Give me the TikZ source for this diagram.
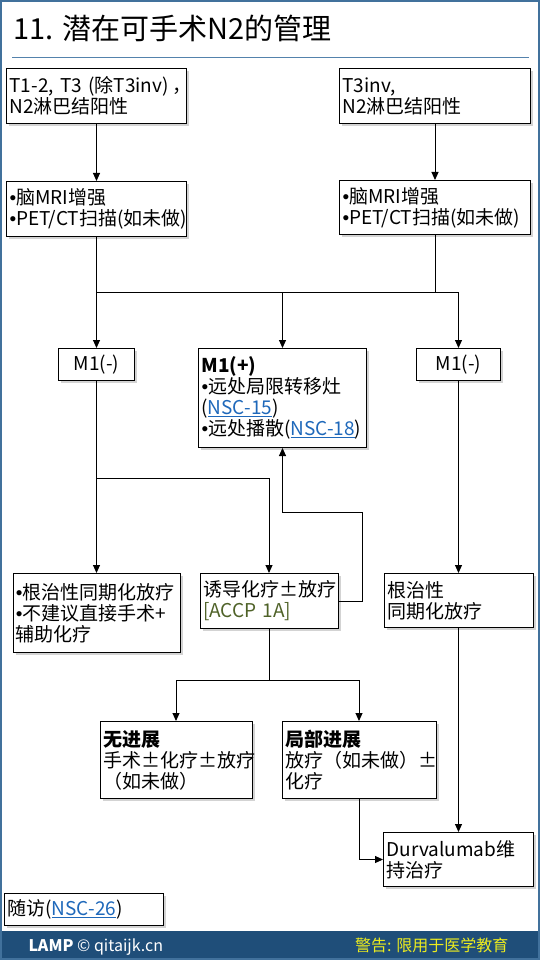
\documentclass[tikz,border=0pt]{standalone}
\usepackage{fontspec}
\setmainfont{Noto Sans CJK SC}
\newfontfamily\bulletfont{Liberation Sans}
\usepackage{tikz}
\usetikzlibrary{positioning,arrows.meta,shadows}

\definecolor{frameblue}{RGB}{65,113,156}
\definecolor{ruleblue}{RGB}{84,130,172}
\definecolor{footblue}{RGB}{31,78,121}
\definecolor{warnyellow}{RGB}{236,236,30}
\definecolor{linkblue}{RGB}{30,104,186}
\definecolor{gradegreen}{RGB}{79,98,40}
\newcommand{\nsc}[1]{\textcolor{linkblue}{\underline{#1}}}
\newcommand{\bul}{{\bulletfont •}}

\begin{document}
\begin{tikzpicture}[x=1pt,y=1pt,
  box/.style={draw,line width=1pt,fill=white,align=left,inner xsep=3pt,inner ysep=2pt,
              font=\fontsize{19pt}{21pt}\selectfont,
              drop shadow={shadow xshift=2.5pt,shadow yshift=-2.5pt,opacity=0.35}},
  arr/.style={-{Triangle[length=8pt,width=7pt]},line width=1pt}]
\useasboundingbox (0,0) rectangle (540,-960);
\fill[footblue] (0,-931) rectangle (540,-960);
\draw[frameblue,line width=2pt] (1,-1) rectangle (539,-959);
\node[anchor=base west,font=\fontsize{29pt}{32pt}\selectfont] (title) at (10,-40) {11. 潜在可手术N2的管理};
\draw[ruleblue,line width=1pt] (12,-58) -- (529,-58);
% top row
\node[box,text width=174pt,minimum height=55pt,anchor=north west] (ta) at (6,-68) {\mbox{T1-2, T3 (除T3inv)\,，}\\N2淋巴结阳性};
\node[box,text width=185pt,minimum height=55pt,right=152pt of ta.north east,anchor=north west] (tb) {T3inv,\\N2淋巴结阳性};
\node[box,text width=174pt,minimum height=55pt,below=57pt of ta] (mra) {\bul 脑MRI增强\\\bul PET/CT扫描(如未做)};
\node[box,text width=185pt,minimum height=54pt,below=56pt of tb] (mrb) {\bul 脑MRI增强\\\bul PET/CT扫描(如未做)};
% M1 row
\node[box,align=center,minimum width=76pt,minimum height=32pt,below=111pt of mra] (mna) {M1(-)};
\node[box,text width=162pt,minimum height=99pt,right=63pt of mna.north east,anchor=north west] (mp) {\textbf{M1(+)}\\\bul 远处局限转移灶\\(\nsc{NSC-15})\\\bul 远处播散(\nsc{NSC-18})};
\node[box,align=center,minimum width=84pt,minimum height=32pt,right=49pt of mp.north east,anchor=north west] (mnb) {M1(-)};
% treatment row
\node[box,text width=161pt,minimum height=79pt,below=192pt of mna] (cra) {\bul 根治性同期化放疗\\\bul 不建议直接手术+\\辅助化疗};
\node[box,text width=132pt,minimum height=55pt,right=19pt of cra.north east,anchor=north west] (ind) {诱导化疗±放疗\\\textcolor{gradegreen}{[ACCP 1A]}};
\node[box,text width=143pt,minimum height=54pt,right=45pt of ind.north east,anchor=north west] (crb) {根治性\\同期化放疗};
\node[box,text width=146pt,minimum height=77pt,below=92pt of ind,xshift=-93pt] (ne) {\textbf{无进展}\\手术±化疗±放疗\\（如未做）};
\node[box,text width=148pt,minimum height=77pt,right=29pt of ne.north east,anchor=north west] (lp) {\textbf{局部进展}\\放疗（如未做）±\\化疗};
\node[box,text width=144pt,minimum height=54pt,below=204pt of crb] (dv) {Durvalumab维\\持治疗};
\node[box,text width=153pt,minimum height=32pt,anchor=north west] (fu) at (4,-893) {随访(\nsc{NSC-26})};
% footer
\node[anchor=base west,text=white,font=\fontsize{16pt}{18pt}\selectfont] (lamp) at (25,-951) {\textbf{LAMP} © qitaijk.cn};
\node[anchor=base east,text=warnyellow,font=\fontsize{16pt}{18pt}\selectfont] (warn) at (512,-951) {警告: 限用于医学教育};
% connectors
\coordinate (jn) at (0,-292);
\draw[arr] (ta) -- (mra);
\draw[arr] (tb) -- (mrb);
\draw[arr] (mra) -- (mna);
\draw (mrb.south) -- (mrb.south |- jn);
\draw (mra.south |- jn) -- (mnb.north |- jn);
\draw[arr] (mp.north |- jn) -- (mp.north);
\draw[arr] (mnb.north |- jn) -- (mnb.north);
\draw[arr] (mna) -- (cra);
\draw[arr] ([yshift=-97pt]mna.south) -| (ind);
\draw[arr] (ind.east) -- ++(24,0) |- ([yshift=-64pt]mp.south) -- (mp.south);
\draw[arr] (mnb) -- (mnb.south |- crb.north);
\draw[arr] (mnb.south |- crb.south) -- (mnb.south |- dv.north);
\draw (ind.south) -- ++(0,-51) coordinate (sp);
\draw[arr] (sp) -| (ne);
\draw[arr] (sp) -| (lp);
\draw[arr] (lp.south) |- (dv.west);
\end{tikzpicture}
\end{document}
